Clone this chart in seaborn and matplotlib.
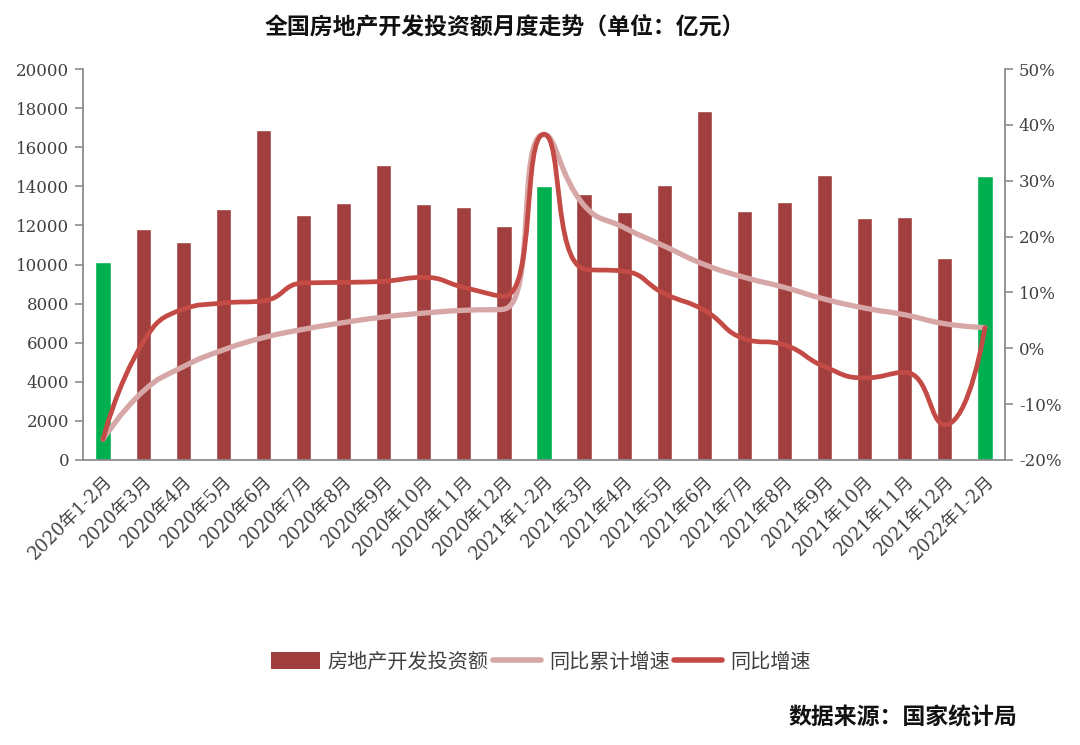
import numpy as np
import pandas as pd
import matplotlib
matplotlib.use("Agg")
import matplotlib.pyplot as plt
import seaborn as sns
from matplotlib.path import Path
from matplotlib.patches import PathPatch, Patch
from matplotlib.lines import Line2D
from matplotlib.ticker import FixedLocator

# ---------------- data ----------------
months = ["2020年1-2月", "2020年3月", "2020年4月", "2020年5月", "2020年6月", "2020年7月",
          "2020年8月", "2020年9月", "2020年10月", "2020年11月", "2020年12月",
          "2021年1-2月", "2021年3月", "2021年4月", "2021年5月", "2021年6月", "2021年7月",
          "2021年8月", "2021年9月", "2021年10月", "2021年11月", "2021年12月", "2022年1-2月"]
investment = [10115, 11831, 11166, 12839, 16864, 12547, 13130, 15074, 13079, 12941, 11985,
              14015, 13606, 12701, 14066, 17867, 12752, 13180, 14562, 12363, 12430, 10332, 14511]
cum_growth = [-16.3, -7.7, -3.3, -0.3, 1.9, 3.4, 4.6, 5.6, 6.3, 6.8, 7.0,
              38.3, 25.6, 21.6, 18.3, 15.0, 12.7, 10.9, 8.8, 7.2, 6.0, 4.4, 3.7]
yoy_growth = [-16.3, 1.1, 7.0, 8.1, 8.5, 11.7, 11.8, 12.0, 12.7, 10.9, 9.3,
              38.3, 14.2, 13.8, 9.8, 6.8, 1.7, 0.6, -3.3, -5.3, -4.3, -13.7, 3.7]
highlight_months = ["2020年1-2月", "2021年1-2月", "2022年1-2月"]
left_ticks = list(range(0, 20001, 2000))
right_ticks = [-20, -10, 0, 10, 20, 30, 40, 50]

title = "全国房地产开发投资额月度走势（单位：亿元）"
source = "数据来源：国家统计局"
legend_labels = ["房地产开发投资额", "同比累计增速", "同比增速"]

# ---------------- style ----------------
BAR_RED = "#A13F3F"
BAR_GREEN = "#00B050"
LIGHT_LINE = "#D6A7A6"
DARK_LINE = "#C44A45"
AXIS_GREY = "#8C8C8C"
TEXT_GREY = "#404040"

sns.set_theme(style="white")
plt.rcParams["font.family"] = ["Noto Sans CJK SC", "DejaVu Sans"]
plt.rcParams["axes.unicode_minus"] = False

fig = plt.figure(figsize=(10.8, 7.45), dpi=100)
AX_W_PX = 1005 - 83
AX_H_PX = 460 - 69
ax = fig.add_axes([83 / 1080, 1 - 460 / 745, AX_W_PX / 1080, AX_H_PX / 745])

df = pd.DataFrame({"month": months, "value": investment})
palette = {m: (BAR_GREEN if m in highlight_months else BAR_RED) for m in months}
sns.barplot(data=df, x="month", y="value", hue="month", palette=palette, legend=False,
            width=0.38, saturation=1, ax=ax)

ax.set_xlim(-0.5, len(months) - 0.5)
ax.set_ylim(0, 20000)
ax.set_yticks(left_ticks)
ax.set_yticklabels([str(v) for v in left_ticks], fontsize=12, color=TEXT_GREY,
                   family=["DejaVu Serif", "Noto Sans CJK SC"])
ax.set_xlabel("")
ax.set_ylabel("")

ax.set_xticks(range(len(months)))
ax.set_xticklabels(months, rotation=45, ha="right", va="top", rotation_mode="anchor",
                   fontsize=13, color=TEXT_GREY,
                   family=["DejaVu Serif", "Noto Sans CJK SC"])
ax.tick_params(axis="x", which="major", length=0, pad=9)
ax.xaxis.set_minor_locator(FixedLocator(np.arange(-0.5, len(months) + 0.5, 1.0)))
ax.tick_params(axis="x", which="minor", length=6, width=1.2, color=AXIS_GREY, direction="out")
ax.tick_params(axis="y", length=6, width=1.2, color=AXIS_GREY, direction="out", left=True, pad=4)

for side in ["top", "right"]:
    ax.spines[side].set_visible(False)
for side in ["left", "bottom"]:
    ax.spines[side].set_color(AXIS_GREY)
    ax.spines[side].set_linewidth(1.3)

ax2 = ax.twinx()
ax2.set_ylim(-20, 50)
ax2.set_yticks(right_ticks)
ax2.set_yticklabels([f"{v}%" for v in right_ticks], fontsize=12, color=TEXT_GREY,
                    family=["DejaVu Serif", "Noto Sans CJK SC"])
ax2.tick_params(axis="y", length=6, width=1.2, color=AXIS_GREY, direction="out", right=True, pad=4)
for side in ["top", "left", "bottom"]:
    ax2.spines[side].set_visible(False)
ax2.spines["right"].set_color(AXIS_GREY)
ax2.spines["right"].set_linewidth(1.3)
ax2.grid(False)
ax.grid(False)


def smooth_path(xs, ys, sx, sy, smooth=0.5):
    """ECharts-style constrained bezier smoothing; computed in screen-scaled space."""
    P = np.column_stack([np.asarray(xs, float) * sx, np.asarray(ys, float) * sy])
    n = len(P)
    verts = [P[0]]
    codes = [Path.MOVETO]
    cp0 = P[0].copy()
    for i in range(1, n):
        x, y = P[i]
        if i < n - 1:
            px, py = P[i - 1]
            nx, ny = P[i + 1]
            vx, vy = nx - px, ny - py
            lp = np.hypot(x - px, y - py)
            ln = np.hypot(x - nx, y - ny)
            ratio = ln / (ln + lp) if (ln + lp) > 0 else 0.5
            ncx = x + vx * smooth * ratio
            ncy = y + vy * smooth * ratio
            ncx = max(min(ncx, max(nx, x)), min(nx, x))
            ncy = max(min(ncy, max(ny, y)), min(ny, y))
            vx, vy = ncx - x, ncy - y
            c1x = x - vx * lp / ln
            c1y = y - vy * lp / ln
            c1x = max(min(c1x, max(px, x)), min(px, x))
            c1y = max(min(c1y, max(py, y)), min(py, y))
            vx, vy = x - c1x, y - c1y
            ncx = x + vx * ln / lp
            ncy = y + vy * ln / lp
            cp1 = np.array([c1x, c1y])
            ncp0 = np.array([ncx, ncy])
        else:
            cp1 = P[i].copy()
            ncp0 = P[i].copy()
        verts += [cp0, cp1, P[i]]
        codes += [Path.CURVE4] * 3
        cp0 = ncp0
    V = np.array(verts)
    V[:, 0] /= sx
    V[:, 1] /= sy
    return Path(V, codes)


xs = np.arange(len(months))
sx = AX_W_PX / len(months)
sy = AX_H_PX / 70.0
ax2.add_patch(PathPatch(smooth_path(xs, cum_growth, sx, sy), facecolor="none",
                        edgecolor=LIGHT_LINE, lw=3.8, capstyle="round", joinstyle="round",
                        zorder=3))
ax2.add_patch(PathPatch(smooth_path(xs, yoy_growth, sx, sy), facecolor="none",
                        edgecolor=DARK_LINE, lw=3.4, capstyle="round", joinstyle="round",
                        zorder=4))

fig.text(505 / 1080, 1 - 27 / 745, title, ha="center", va="center", fontsize=16.5,
         fontweight="bold", color="#111111")
fig.text(1017 / 1080, 1 - 718 / 745, source, ha="right", va="center", fontsize=16.5,
         fontweight="bold", color="#111111")

handles = [Patch(facecolor=BAR_RED, edgecolor="none"),
           Line2D([0], [0], color=LIGHT_LINE, lw=4),
           Line2D([0], [0], color=DARK_LINE, lw=4)]
fig.legend(handles, legend_labels, loc="center", bbox_to_anchor=(541 / 1080, 1 - 662 / 745),
           ncol=3, frameon=False, fontsize=14.5, handlelength=2.4, handleheight=0.9,
           handletextpad=0.4, columnspacing=0.2, labelcolor=TEXT_GREY)

fig.savefig("out.png", dpi=100, facecolor="white")
